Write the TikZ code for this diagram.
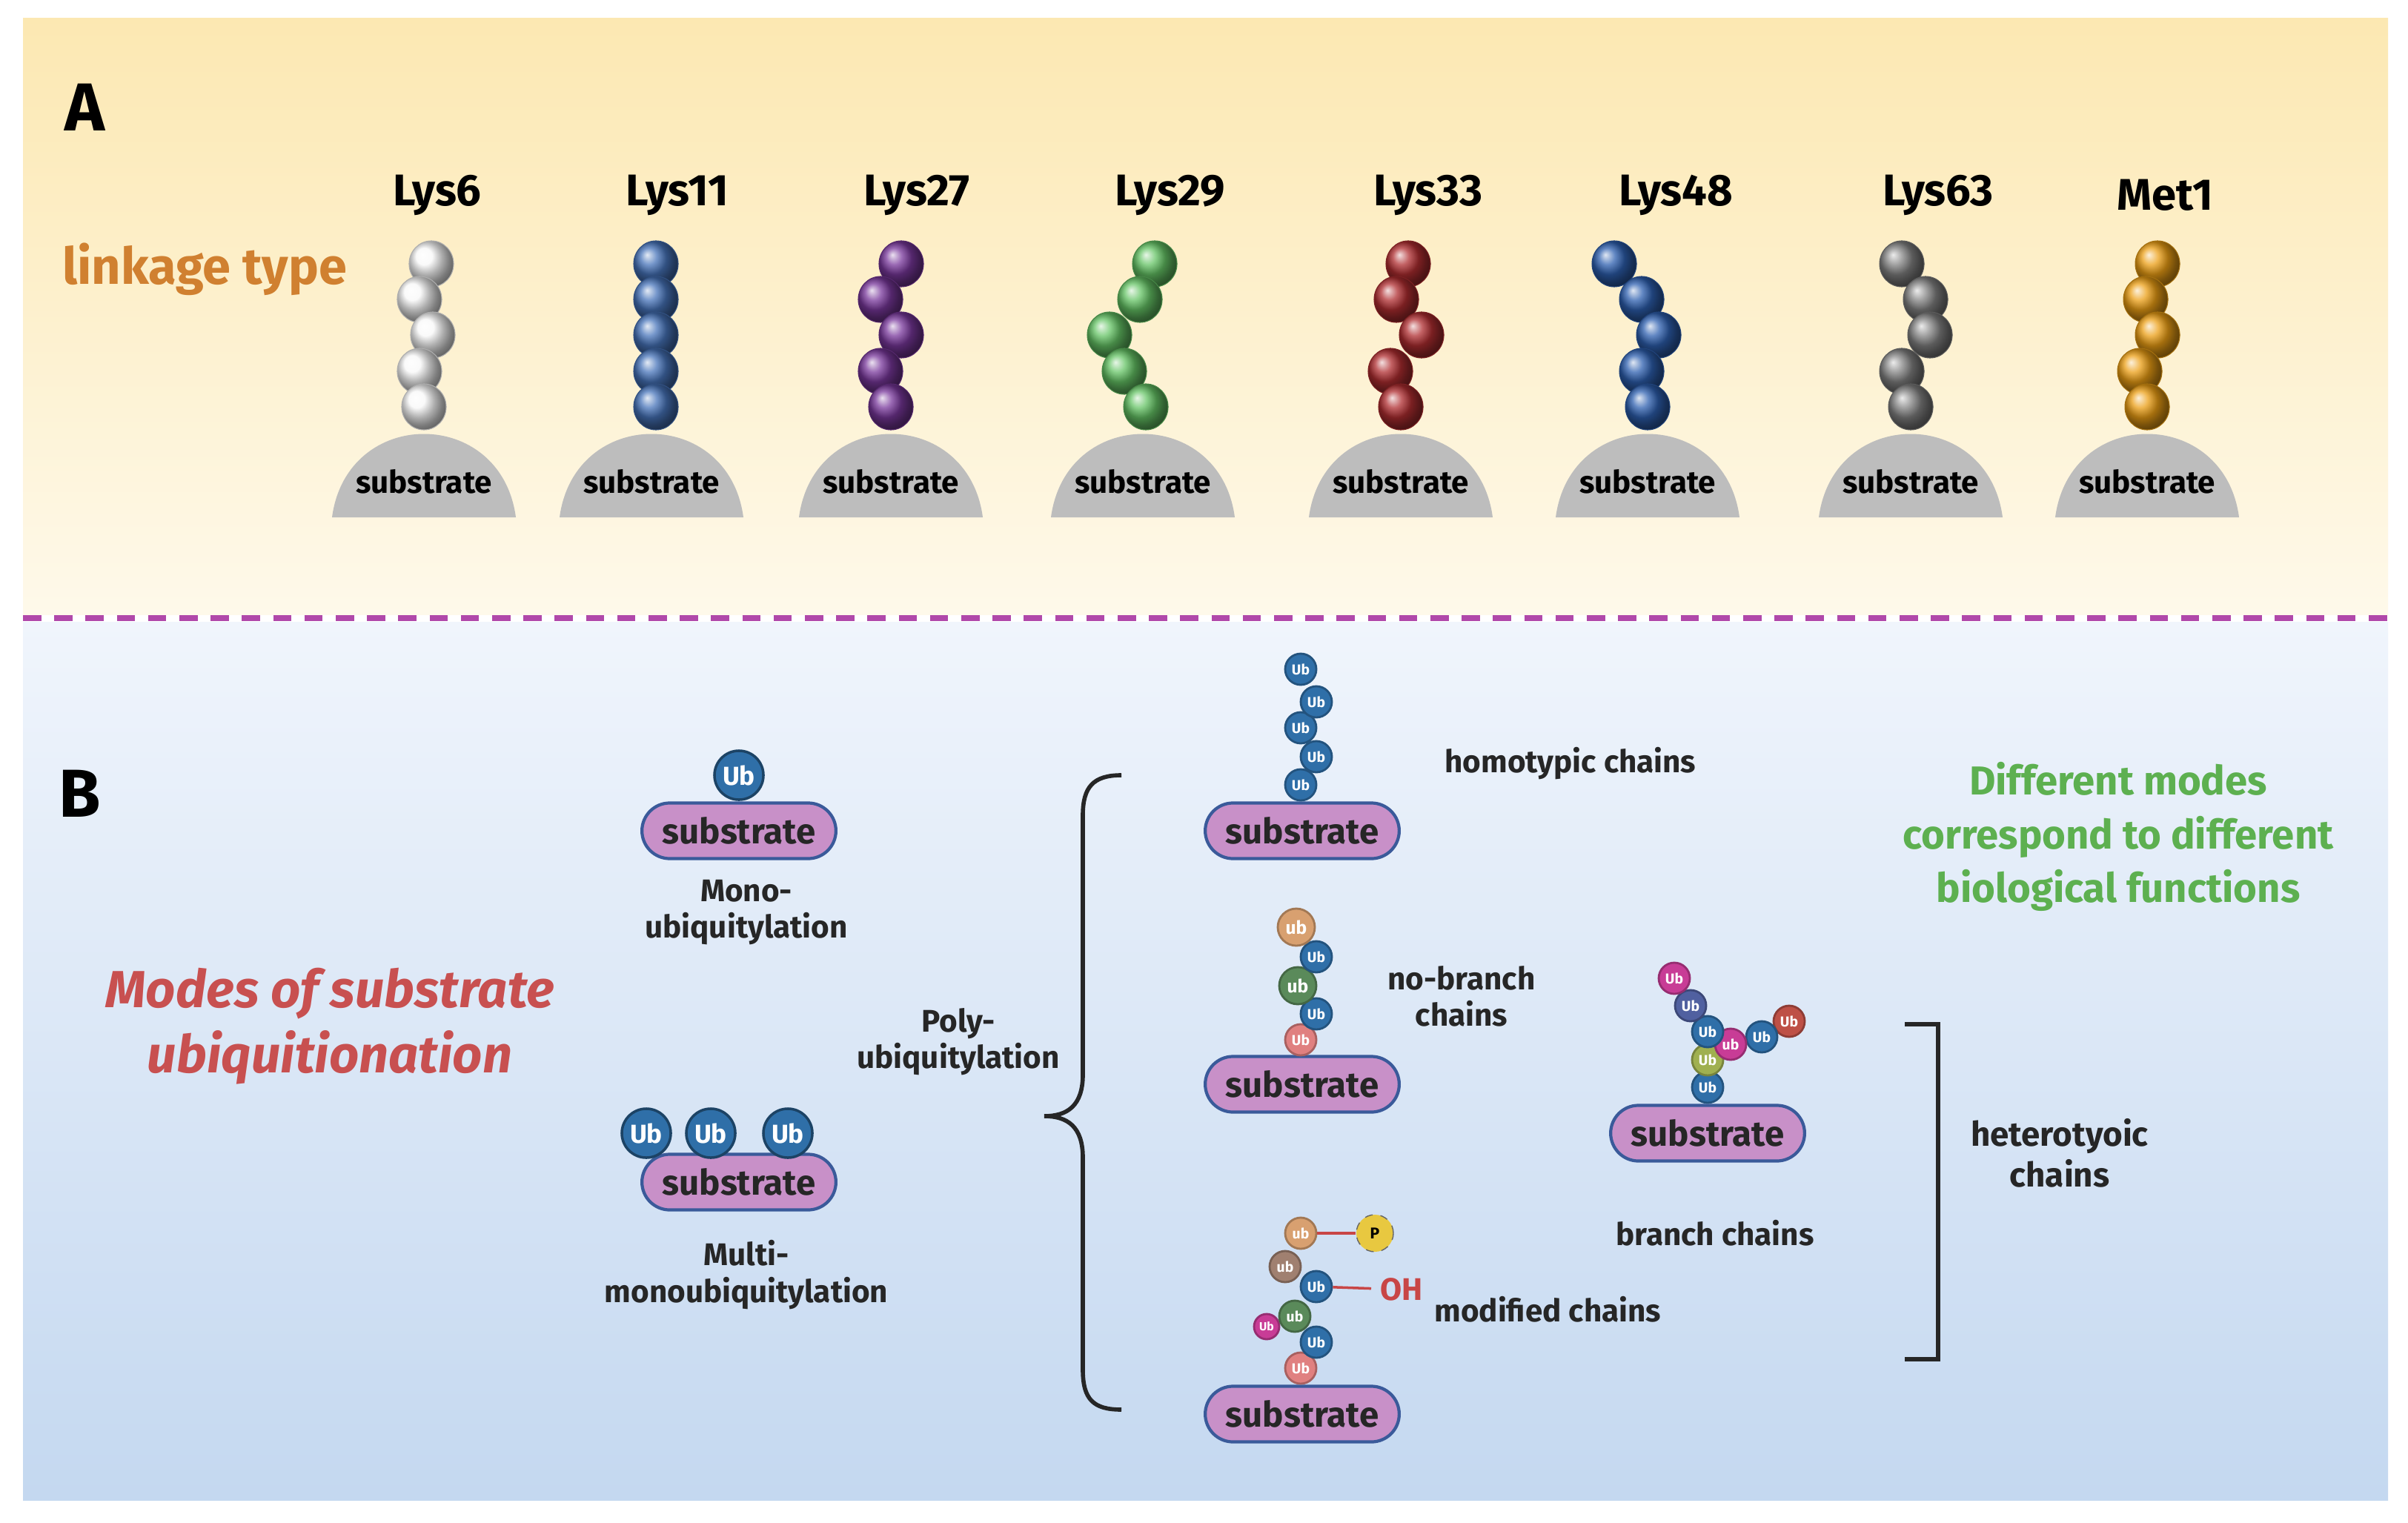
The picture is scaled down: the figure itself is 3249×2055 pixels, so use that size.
\documentclass[tikz,border=0pt]{standalone}
\usepackage{fontspec}
\setmainfont{Fira Sans}
\usetikzlibrary{shapes.misc}
\definecolor{pillc}{HTML}{C890C8}
\definecolor{pilledge}{HTML}{3A5A9A}
\definecolor{ubblue}{HTML}{2F6FA8}
\definecolor{domec}{HTML}{BDBDBD}
\definecolor{ubpink}{RGB}{224,128,128}
\definecolor{ubgreen}{RGB}{90,138,90}
\definecolor{ubtan}{RGB}{216,160,112}
\definecolor{ubmag}{RGB}{200,60,150}
\definecolor{ubbrown}{RGB}{160,128,112}
\definecolor{ubyg}{RGB}{160,176,80}
\definecolor{ubred}{RGB}{190,80,70}
\definecolor{ubpurp}{RGB}{80,96,160}
\definecolor{pyel}{RGB}{232,200,64}
\definecolor{ohred}{RGB}{200,70,70}
\definecolor{orng}{RGB}{208,128,48}
\definecolor{modred}{RGB}{200,80,80}
\definecolor{grn}{RGB}{93,176,80}
\definecolor{dashc}{RGB}{176,72,170}
\definecolor{yTop}{RGB}{252,232,178}
\definecolor{yBot}{RGB}{254,249,234}
\definecolor{bTop}{RGB}{240,245,252}
\definecolor{bBot}{RGB}{196,216,240}
\definecolor{cW}{RGB}{248,248,248}
\definecolor{cB}{RGB}{70,115,185}
\definecolor{cP}{RGB}{120,55,155}
\definecolor{cG}{RGB}{100,195,100}
\definecolor{cR}{RGB}{175,45,48}
\definecolor{cD}{RGB}{45,95,175}
\definecolor{cY}{RGB}{130,130,130}
\definecolor{cO}{RGB}{235,158,20}
\begin{document}
\begin{tikzpicture}[x=0.01cm,y=-0.01cm,
  lys/.style={font=\fontsize{17}{20}\selectfont\bfseries},
  domelbl/.style={font=\fontsize{12}{14}\selectfont\bfseries},
  pill/.style={rounded rectangle, fill=pillc, draw=pilledge, line width=1.2pt, minimum width=2.85cm, minimum height=0.75cm, font=\fontsize{13.5}{15}\selectfont\bfseries, text=black!85},
  ub/.style={circle, fill=#1, draw=#1!75!black, line width=0.8pt, text=white, inner sep=0pt, minimum size=0.42cm, font=\fontsize{5.5}{6}\selectfont\bfseries},
  ubL/.style={circle, fill=ubblue, draw=ubblue!60!black, line width=1pt, text=white, inner sep=0pt, minimum size=0.66cm, font=\fontsize{10}{11}\selectfont\bfseries},
  lbl/.style={font=\fontsize{12}{14}\selectfont\bfseries, align=center, text=black!85}]
\useasboundingbox (0,0) rectangle (3249,2055);
\fill[white] (0,0) rectangle (3249,2055);
\shade[top color=yTop, bottom color=yBot] (31,25) rectangle (3222,829);
\shade[top color=bTop, bottom color=bBot] (31,839) rectangle (3222,2024);
\draw[dashc, line width=2.2pt, dash pattern=on 7pt off 5pt] (31,834) -- (3222,834);
% Panel A
\node[font=\fontsize{26}{30}\selectfont\bfseries] (A) at (114,145) {A};
\node[font=\fontsize{19.5}{22}\selectfont\bfseries, text=orng] (lt) at (276,363) {linkage type};
\foreach \x/\lx/\name/\col/\a/\b/\c/\d/\e in {
 572/590/Lys6/cW/10/-6/12/-6/0,
 879/914/Lys11/cB/6/6/6/6/6,
 1202/1237/Lys27/cP/14/-14/14/-14/0,
 1542/1579/Lys29/cG/16/-4/-45/-25/4,
 1890/1927/Lys33/cR/10/-6/28/-14/0,
 2223/2261/Lys48/cD/-45/-8/15/-8/0,
 2578/2615/Lys63/cY/-12/20/26/-12/0,
 2897/2921/Met1/cO/14/-2/14/-10/0}{
  \fill[domec] (\x-124,698) .. controls (\x-104,548) and (\x+104,548) .. (\x+124,698) -- cycle;
  \node[domelbl] (s\name) at (\x,650) {substrate};
  \node[lys] (l\name) at (\lx,263) {\name};
  \foreach \o/\yy in {\a/356,\b/404,\c/452,\d/501,\e/549}{
    \shade[ball color=\col, draw=\col!70!black, line width=0.3pt] (\x+\o,\yy) ellipse (0.3cm and 0.31cm);
  }
}
% Panel B
\node[font=\fontsize{26}{30}\selectfont\bfseries] (B) at (108,1071) {B};
\node[font=\fontsize{20}{25}\selectfont\bfseries\itshape, text=modred, align=center] (modes) at (445,1385) {Modes of substrate\\ubiquitionation};
\node[font=\fontsize{15.5}{20.5}\selectfont\bfseries, text=grn, align=center] (diff) at (2858,1129) {Different modes\\correspond to different\\biological functions};
% mono
\node[pill] (p1) at (997,1121) {substrate};
\node[ubL] (u1) at (997,1046) {Ub};
\node[lbl] (t1) at (1007,1231) {Mono-\\ubiquitylation};
% multi
\node[pill] (p2) at (997,1595) {substrate};
\node[ubL] (u2a) at (872,1529) {Ub};
\node[ubL] (u2b) at (959,1529) {Ub};
\node[ubL] (u2c) at (1063,1529) {Ub};
\node[lbl] (t2) at (1007,1720) {Multi-\\monoubiquitylation};
% poly
\node[lbl] (t3) at (1293,1406) {Poly-\\ubiquitylation};
\draw[line width=1.6pt, black!85] (1513,1046) .. controls (1475,1046) and (1461,1062) .. (1461,1100) -- (1461,1450) .. controls (1461,1492) and (1440,1506) .. (1409,1506) .. controls (1440,1506) and (1461,1520) .. (1461,1562) -- (1461,1848) .. controls (1461,1888) and (1475,1902) .. (1513,1902);
% homotypic
\node[pill] (p3) at (1757,1121) {substrate};
\node[ub=ubblue] (h5) at (1755,1059) {Ub};
\node[ub=ubblue] (h4) at (1776,1021) {Ub};
\node[ub=ubblue] (h3) at (1755,982) {Ub};
\node[ub=ubblue] (h2) at (1776,947) {Ub};
\node[ub=ubblue] (h1) at (1755,903) {Ub};
\node[lbl, anchor=west] (t4) at (1937,1030) {homotypic chains};
% no-branch
\node[pill] (p4) at (1757,1463) {substrate};
\node[ub=ubpink] (n5) at (1755,1403) {Ub};
\node[ub=ubblue] (n4) at (1776,1368) {Ub};
\node[ub=ubgreen, minimum size=0.5cm, font=\fontsize{7}{8}\selectfont\bfseries] (n3) at (1751,1330) {ub};
\node[ub=ubblue] (n2) at (1776,1291) {Ub};
\node[ub=ubtan, minimum size=0.5cm, font=\fontsize{7}{8}\selectfont\bfseries] (n1) at (1749,1251) {ub};
\node[lbl] (t5) at (1972,1344) {no-branch\\chains};
% modified
\node[pill] (p5) at (1757,1908) {substrate};
\node[ub=ubpink] (m7) at (1755,1846) {Ub};
\node[ub=ubblue] (m6) at (1776,1811) {Ub};
\node[ub=ubmag, minimum size=0.34cm, font=\fontsize{4.5}{5}\selectfont\bfseries] (m5) at (1709,1790) {Ub};
\node[ub=ubgreen] (m4) at (1747,1776) {ub};
\node[ub=ubblue] (m3) at (1776,1736) {Ub};
\node[ub=ubbrown] (m2) at (1734,1709) {ub};
\node[ub=ubtan] (m1) at (1755,1664) {ub};
\node[circle, fill=pyel, draw=black!60, dashed, inner sep=0pt, minimum size=0.5cm, font=\fontsize{6}{7}\selectfont\bfseries] (P) at (1855,1664) {P};
\node[font=\fontsize{12}{14}\selectfont\bfseries, text=ohred, anchor=west] (OH) at (1850,1740) {OH};
\draw[line width=1pt, ohred] (m1) -- (P);
\draw[line width=1pt, ohred] (m3) -- (OH);
\node[lbl, anchor=west] (t6) at (1923,1767) {modified chains};
% branch
\node[pill] (p6) at (2304,1529) {substrate};
\node[ub=ubblue] (b8) at (2304,1467) {Ub};
\node[ub=ubyg] (b7) at (2304,1430) {Ub};
\node[ub=ubred] (b9) at (2414,1378) {Ub};
\node[ub=ubblue] (b5) at (2377,1399) {Ub};
\node[ub=ubmag] (b4) at (2335,1409) {ub};
\node[ub=ubblue] (b3) at (2304,1392) {Ub};
\node[ub=ubpurp] (b2) at (2281,1357) {Ub};
\node[ub=ubmag] (b1) at (2259,1320) {Ub};
\node[lbl] (t7) at (2314,1664) {branch chains};
% bracket
\coordinate (k1) at (2570,1382);
\coordinate (k2) at (2615,1382);
\coordinate (k3) at (2615,1834);
\coordinate (k4) at (2570,1834);
\draw[line width=1.6pt, black!85] (k1) -- (k2) -- (k3) -- (k4);
\node[lbl, font=\fontsize{13}{15.5}\selectfont\bfseries] (t8) at (2779,1556) {heterotyoic\\chains};
\end{tikzpicture}
\end{document}
